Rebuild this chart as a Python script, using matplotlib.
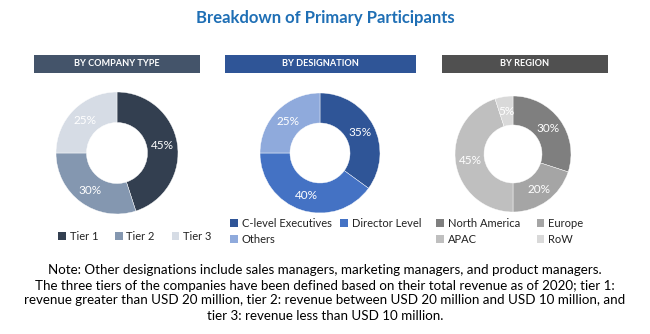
import matplotlib
matplotlib.use("Agg")
import matplotlib.pyplot as plt
from matplotlib.patches import Rectangle

# ---- data ----
company_labels = ["Tier 1", "Tier 2", "Tier 3"]
company_values = [45, 30, 25]
company_colors = ["#333f50", "#8497b0", "#d6dce5"]

designation_labels = ["C-level Executives", "Director Level", "Others"]
designation_values = [35, 40, 25]
designation_colors = ["#2f5597", "#4472c4", "#8faadc"]

region_labels = ["North America", "Europe", "APAC", "RoW"]
region_values = [30, 20, 45, 5]
region_colors = ["#7f7f7f", "#a5a5a5", "#bfbfbf", "#d9d9d9"]

headers = ["BY COMPANY TYPE", "BY DESIGNATION", "BY REGION"]
header_colors = ["#44546a", "#2f5597", "#505050"]

title = "Breakdown of Primary Participants"
note = ("Note: Other designations include sales managers, marketing managers, and product managers.\n"
        "The three tiers of the companies have been defined based on their total revenue as of 2020; tier 1:\n"
        "revenue greater than USD 20 million, tier 2: revenue between USD 20 million and USD 10 million, and\n"
        "tier 3: revenue less than USD 10 million.")

W, H = 650, 334
fig = plt.figure(figsize=(W / 100, H / 100), dpi=100)
ax = fig.add_axes([0, 0, 1, 1])

FONT = ["Lato", "DejaVu Sans"]

def Y(y_top):
    return H - y_top

# pies (center x, center y from top, radius) in pixels
pies = [
    (company_values, company_colors, company_labels, 117, 153, 61),
    (designation_values, designation_colors, designation_labels, 320, 153, 60),
    (region_values, region_colors, region_labels, 513, 154, 58),
]
wedge_sets = []
for vals, cols, labs, cx, cy, r in pies:
    wedges, texts, autotexts = ax.pie(
        vals, colors=cols, startangle=90, counterclock=False,
        center=(cx, Y(cy)), radius=r,
        wedgeprops=dict(width=r * 0.5, edgecolor="white", linewidth=0.3),
        autopct="%d%%", pctdistance=0.75,
        textprops=dict(color="white", fontsize=8.5, family=FONT))
    wedge_sets.append(wedges)

ax.set_xlim(0, W)
ax.set_ylim(0, H)
ax.set_aspect("equal")
ax.axis("off")

# title
ax.text(325, Y(18), title, ha="center", va="center", fontsize=12,
        fontweight="bold", color="#1f6fb5", family=FONT)

# header bars
bars = [(34, 200), (225, 416), (442, 608)]
for (x0, x1), txt, col in zip(bars, headers, header_colors):
    ax.add_patch(Rectangle((x0, Y(73)), x1 - x0, 18, facecolor=col, edgecolor="none"))
    ax.text((x0 + x1) / 2, Y(64), txt, ha="center", va="center", fontsize=6.6,
            fontweight="bold", color="white", family=FONT)

# legends
leg_kw = dict(frameon=False, handlelength=0.7, handleheight=0.7, handletextpad=0.35,
              borderaxespad=0, borderpad=0, prop=dict(family=FONT, size=8),
              labelcolor="#222222", bbox_transform=ax.transData)

def order(seq, idx):
    return [seq[i] for i in idx]

l1 = ax.legend(wedge_sets[0], company_labels, ncol=3, loc="center left",
               bbox_to_anchor=(58, Y(236)), columnspacing=1.5, **leg_kw)
ax.add_artist(l1)
idx2 = [0, 2, 1]
l2 = ax.legend(order(wedge_sets[1], idx2), order(designation_labels, idx2), ncol=2,
               loc="upper left", bbox_to_anchor=(230, Y(218)), columnspacing=0.8,
               labelspacing=0.45, **leg_kw)
ax.add_artist(l2)
idx3 = [0, 2, 1, 3]
l3 = ax.legend(order(wedge_sets[2], idx3), order(region_labels, idx3), ncol=2,
               loc="upper left", bbox_to_anchor=(436, Y(218)), columnspacing=1.5,
               labelspacing=0.45, **leg_kw)
for lg in (l1, l2, l3):
    for h in lg.legend_handles:
        h.set_edgecolor("none")

# note
ax.text(325, Y(293), note, ha="center", va="center", fontsize=9.6, color="black",
        family=FONT, linespacing=1.3)

fig.savefig("out.png", dpi=100)
